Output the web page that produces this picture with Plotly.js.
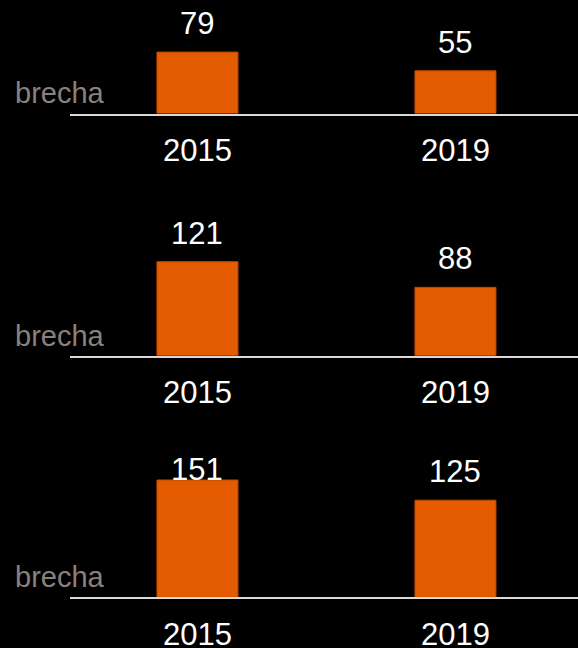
<!DOCTYPE html>
<html><head><meta charset="utf-8">
<script src="https://cdn.plot.ly/plotly-3.0.1.min.js"></script>
<style>html,body{margin:0;padding:0;background:#000;}#chart{width:578px;height:648px;}</style>
</head><body><div id="chart"></div>
<script>
// ---- data ----
const years = ['2015', '2019'];
const panel1 = [79, 55];
const panel2 = [121, 88];
const panel3 = [151, 125];
const sideLabel = 'brecha';

// ---- layout constants ----
const W = 578, H = 648, L = 70;
const pxPerUnit = 0.777;
const baselinesPx = [113.5, 355.7, 597.3];   // from top
const yMax = [140, 160, 155];
const labelCapPx = [1e9, 1e9, 108];
const labelGapPx = 9;
const panels = [panel1, panel2, panel3];
const font = 'Liberation Sans, Arial, Helvetica, sans-serif';
const orange = '#E55B00';
const numSize = 31;

const data = [];
const layout = {
  width: W, height: H,
  margin: {l: L, r: 0, t: 0, b: 0},
  paper_bgcolor: '#000', plot_bgcolor: '#000',
  showlegend: false,
  font: {family: font, color: '#fff', size: numSize},
  annotations: []
};

panels.forEach((vals, i) => {
  const n = i + 1;
  const xa = 'x' + (n === 1 ? '' : n), ya = 'y' + (n === 1 ? '' : n);
  const xk = 'xaxis' + (n === 1 ? '' : n), yk = 'yaxis' + (n === 1 ? '' : n);
  const bottom = (H - baselinesPx[i]) / H;
  const top = Math.min(1, bottom + yMax[i] * pxPerUnit / H);
  data.push({
    type: 'bar', x: years, y: vals, xaxis: xa, yaxis: ya,
    width: 0.314,
    marker: {color: orange, line: {color: '#B84800', width: 1}},
    hoverinfo: 'none'
  });
  layout[xk] = {
    domain: [0, 1], anchor: ya, type: 'category',
    range: [-0.494, 1.475],
    showline: true, linecolor: '#D9D9D9', linewidth: 2,
    showgrid: false, zeroline: false, ticks: '',
    tickfont: {size: numSize, color: '#fff', family: font},
    ticklabelstandoff: 8, fixedrange: true
  };
  layout[yk] = {
    domain: [bottom, top], anchor: xa,
    range: [0, yMax[i]], visible: false, fixedrange: true
  };
  vals.forEach((v, j) => {
    const px = Math.min(v * pxPerUnit + labelGapPx, labelCapPx[i]);
    layout.annotations.push({
      x: j, y: px / pxPerUnit, xref: xa, yref: ya,
      text: String(v), showarrow: false, yanchor: 'bottom', xanchor: 'center',
      font: {size: numSize, color: '#fff', family: font}
    });
  });
  layout.annotations.push({
    x: (13 - L) / (W - L), xref: 'paper', xanchor: 'left',
    y: 0, yref: ya, yanchor: 'bottom', yshift: 2,
    text: sideLabel, showarrow: false,
    font: {size: 29, color: '#8A817C', family: font}
  });
});

Plotly.newPlot('chart', data, layout, {displayModeBar: false, staticPlot: true});
</script>
</body></html>
